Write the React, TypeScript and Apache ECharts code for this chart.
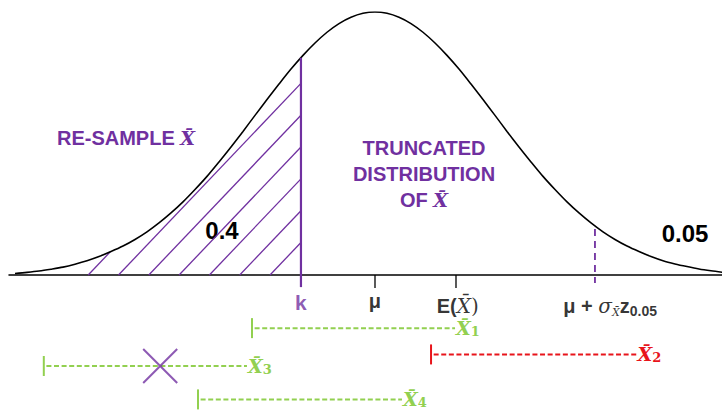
import React, { useEffect, useRef } from 'react';
import * as echarts from 'echarts';

// ---- data (x in units of sigma around mu, height in % of peak) ----
const curveZ = [
  -3.0, -2.9, -2.8, -2.7, -2.6, -2.5, -2.4, -2.3, -2.2, -2.1, -2.0, -1.9, -1.8, -1.7, -1.6,
  -1.5, -1.4, -1.3, -1.2, -1.1, -1.0, -0.9, -0.8, -0.7, -0.6, -0.5, -0.4, -0.3, -0.2, -0.1,
  0.0, 0.1, 0.2, 0.3, 0.4, 0.5, 0.6, 0.7, 0.8, 0.9, 1.0, 1.1, 1.2, 1.3, 1.4,
  1.5, 1.6, 1.7, 1.8, 1.9, 2.0, 2.1, 2.2, 2.3, 2.4, 2.5, 2.6, 2.7, 2.8, 2.9,
];
const curveH = [
  0.6, 1.0, 1.5, 2.2, 3.0, 4.1, 5.4, 7.0, 8.9, 11.0, 13.5, 16.4, 19.8, 23.6, 27.8,
  32.5, 37.5, 43.0, 48.7, 54.6, 60.7, 66.7, 72.6, 78.3, 83.5, 88.2, 92.3, 95.6, 98.0, 99.5,
  100, 99.5, 98.0, 95.6, 92.3, 88.2, 83.5, 78.3, 72.6, 66.7, 60.7, 54.6, 48.7, 43.0, 37.5,
  32.5, 27.8, 23.6, 19.8, 16.4, 13.5, 11.0, 8.9, 7.0, 5.4, 4.2, 3.2, 2.3, 1.6, 1.0,
];

const kValue = -0.617;
const kHeight = 82.6;
const kBottom = -4.6;
const tickValues = [0, 0.675]; // mu, E(Xbar)
const tickBottom = -4.9;
const critValue = 1.833;
const critHeight = 17.5;
const critBottom = -3.0;
const hatchStart = -2.39;

const intervalNames = ['1', '2', '3', '4'];
const intervalStart = [-1.025, 0.467, -2.76, -1.475];
const intervalEnd = [0.667, 2.18, -1.067, 0.225];
const intervalRow = [-20.2, -30.2, -34.6, -47.3];
const intervalKind = ['accept', 'reject', 'accept', 'accept'];
const crossMark = [-1.79, -34.6];

const axisLabelValues = [kValue, 0, 0.69, 1.96];
const axisLabelRows = [-10.4, -9.8, -11.6, -11.8];
const axisLabelTexts = [
  '{kp|k}',
  '{b|\u03bc}',
  '{b|E(}{m|X\u0304}{mp|)}',
  '{b|\u03bc + }{m|\u03c3}{ms|X\u0304}{b|z}{bs|0.05}',
];

// ---- styles ----
const PURPLE = '#7030A0';
const GREEN = '#92D050';
const RED = '#E8141B';
const SANS = '"Liberation Sans", Arial, sans-serif';
const SERIF = '"DejaVu Serif", serif';
const HATCH_GAP = 30.3;
const HATCH_SLOPE = 1.05;

const overX = 'X\u0304';

function buildOption() {
  const hatchSeries = {
    type: 'custom',
    coordinateSystem: 'cartesian2d',
    z: 1,
    silent: true,
    data: [[kValue, 0]],
    renderItem: (_params: any, api: any) => {
      const pts = curveZ.map((z, i) => api.coord([z, curveH[i]]));
      const baseY = api.coord([0, 0])[1];
      const kx = api.coord([kValue, 0])[0];
      const sx = api.coord([hatchStart, 0])[0];
      const curveYAt = (x: number) => {
        for (let i = 0; i < pts.length - 1; i++) {
          const a = pts[i], b = pts[i + 1];
          if (x >= a[0] && x <= b[0]) {
            const t = (x - a[0]) / (b[0] - a[0]);
            return a[1] + t * (b[1] - a[1]);
          }
        }
        return baseY;
      };
      const children: any[] = [];
      const push = (s: number[], e: number[]) => {
        if (Math.hypot(e[0] - s[0], e[1] - s[1]) < 1) return;
        children.push({
          type: 'line',
          shape: { x1: s[0], y1: s[1], x2: e[0], y2: e[1] },
          style: { stroke: PURPLE, lineWidth: 1.3 },
        });
      };
      for (let c = sx; c < kx - 1; c += HATCH_GAP) {
        let segS: number[] | null = null;
        let segE: number[] | null = null;
        for (let x = c; x <= kx + 0.25; x += 0.25) {
          const xx = Math.min(x, kx);
          const y = baseY - HATCH_SLOPE * (xx - c);
          const inside = y >= curveYAt(xx) - 0.2;
          if (inside) {
            if (!segS) segS = [xx, y];
            segE = [xx, y];
          } else if (segS && segE) {
            push(segS, segE);
            segS = null;
            segE = null;
          }
        }
        if (segS && segE) push(segS, segE);
      }
      return { type: 'group', children };
    },
  };

  const curveSeries = {
    type: 'line',
    z: 3,
    data: curveZ.map((z, i) => [z, curveH[i]]),
    smooth: 0.3,
    symbol: 'none',
    lineStyle: { color: '#000', width: 1.6 },
    silent: true,
  };

  const kSeries = {
    type: 'line',
    z: 4,
    data: [[kValue, kHeight], [kValue, kBottom]],
    symbol: 'none',
    lineStyle: { color: PURPLE, width: 2.2 },
  };

  const critSeries = {
    type: 'line',
    z: 4,
    data: [[critValue, critHeight], [critValue, critBottom]],
    symbol: 'none',
    lineStyle: { color: PURPLE, width: 1.8, type: [7, 5] },
  };

  const tickSeries = tickValues.map((v) => ({
    type: 'line',
    z: 4,
    data: [[v, 0], [v, tickBottom]],
    symbol: 'none',
    lineStyle: { color: '#000', width: 1.3 },
  }));

  const intervalSeries = intervalNames.map((name, i) => {
    const color = intervalKind[i] === 'reject' ? RED : GREEN;
    return {
      type: 'line',
      z: 5,
      data: [
        { value: [intervalStart[i], intervalRow[i]], symbol: 'rect', symbolSize: [2, 20] },
        { value: [intervalEnd[i], intervalRow[i]], symbol: 'none' },
      ],
      showSymbol: true,
      itemStyle: { color },
      lineStyle: { color, width: 2, type: [5, 2.6], dashOffset: 4.5 },
      endLabel: {
        show: true,
        distance: 1,
        formatter: '{m|' + overX + '}{s|' + name + '}',
        rich: {
          m: { fontFamily: SERIF, fontStyle: 'italic', fontWeight: 'bold', fontSize: 19, color, lineHeight: 20 },
          s: { fontFamily: SERIF, fontWeight: 'bold', fontSize: 13, color, lineHeight: 10, verticalAlign: 'bottom' },
        },
      },
    };
  });

  const crossSeries = {
    type: 'scatter',
    z: 6,
    data: [crossMark],
    symbol: 'path://M0,0L10,10M10,0L0,10',
    symbolSize: 34,
    itemStyle: { color: 'transparent', borderColor: PURPLE, borderWidth: 2 },
  };

  const labelRich = {
    kp: { fontFamily: SANS, fontWeight: 'bold', fontSize: 21, color: PURPLE, lineHeight: 24 },
    b: { fontFamily: SANS, fontWeight: 'bold', fontSize: 20, color: '#000', lineHeight: 24 },
    bs: { fontFamily: SANS, fontWeight: 'bold', fontSize: 14, color: '#000', lineHeight: 14, verticalAlign: 'bottom' },
    m: { fontFamily: SERIF, fontStyle: 'italic', fontSize: 20, color: '#000', lineHeight: 24 },
    mp: { fontFamily: SERIF, fontSize: 20, color: '#000', lineHeight: 24 },
    ms: { fontFamily: SERIF, fontStyle: 'italic', fontSize: 11, color: '#000', lineHeight: 12, verticalAlign: 'bottom' },
  };

  const axisLabelSeries = {
    type: 'scatter',
    z: 6,
    symbolSize: 1,
    itemStyle: { color: 'transparent' },
    data: axisLabelValues.map((v, i) => ({
      value: [v, axisLabelRows[i]],
      label: {
        show: true,
        position: 'inside',
        formatter: axisLabelTexts[i],
        rich: labelRich,
      },
    })),
  };

  const purpleRich = {
    a: { fontFamily: SANS, fontWeight: 'bold', fontSize: 20, fill: PURPLE, color: PURPLE, lineHeight: 26 },
    m: { fontFamily: SERIF, fontStyle: 'italic', fontWeight: 'bold', fontSize: 19, fill: PURPLE, color: PURPLE, lineHeight: 26 },
  };

  return {
    animation: false,
    backgroundColor: '#fff',
    grid: { left: 9, right: 0, top: 12, bottom: 0, containLabel: false },
    xAxis: {
      type: 'value',
      min: -3.05,
      max: 2.8917,
      axisLine: { show: true, onZero: true, lineStyle: { color: '#000', width: 1.5 } },
      axisTick: { show: false },
      axisLabel: { show: false },
      splitLine: { show: false },
    },
    yAxis: {
      type: 'value',
      min: -51.33,
      max: 100,
      show: false,
      splitLine: { show: false },
    },
    graphic: [
      {
        type: 'text',
        x: 126,
        y: 138,
        style: { text: '{a|RE-SAMPLE }{m|' + overX + '}', rich: purpleRich, align: 'center', verticalAlign: 'middle' },
      },
      {
        type: 'text',
        x: 424,
        y: 174,
        style: {
          text: '{a|TRUNCATED}\n{a|DISTRIBUTION}\n{a|OF }{m|' + overX + '}',
          rich: purpleRich,
          align: 'center',
          verticalAlign: 'middle',
        },
      },
      {
        type: 'text',
        x: 222,
        y: 230,
        style: { text: '0.4', font: 'bold 24px "Liberation Sans", Arial, sans-serif', fill: '#000', align: 'center', verticalAlign: 'middle' },
      },
      {
        type: 'text',
        x: 685,
        y: 233,
        style: { text: '0.05', font: 'bold 24px "Liberation Sans", Arial, sans-serif', fill: '#000', align: 'center', verticalAlign: 'middle' },
      },
    ],
    series: [
      hatchSeries,
      curveSeries,
      kSeries,
      critSeries,
      ...tickSeries,
      ...intervalSeries,
      crossSeries,
      axisLabelSeries,
    ],
  };
}

export default function App() {
  const ref = useRef<HTMLDivElement>(null);
  useEffect(() => {
    if (!ref.current) return;
    const chart = echarts.init(ref.current, null, { renderer: 'svg' });
    chart.setOption(buildOption() as any);
    return () => chart.dispose();
  }, []);
  return (
    <div
      ref={ref}
      style={{ position: 'fixed', left: 0, top: 0, width: 722, height: 410, background: '#fff' }}
    />
  );
}
